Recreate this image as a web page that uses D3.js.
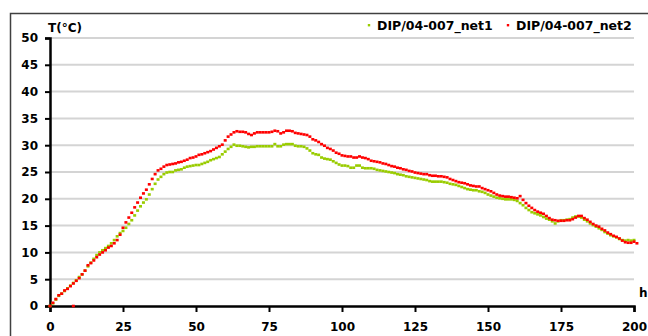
<!DOCTYPE html>
<html>
<head>
<meta charset="utf-8">
<script src="https://cdn.jsdelivr.net/npm/d3@7"></script>
<style>
  html, body { margin: 0; padding: 0; background: #fff; }
  svg { display: block; }
  text { font-family: "DejaVu Sans", Verdana, sans-serif; font-weight: bold; fill: #000; }
</style>
</head>
<body>
<svg id="chart" width="648" height="336"></svg>
<script>
// Temperature readings, one per hour (0..200 h)
const seriesNames = ["DIP/04-007_net1", "DIP/04-007_net2"];
const seriesColors = ["#99cc00", "#ff0000"];

const net1 = [
  0, 0.5, 1.2, 1.9, 2.3, 2.8, 3.3, 3.8, 4.3, 4.8,
  5.4, 5.9, 6.6, 7.4, 8.1, 8.8, 9.5, 10.0, 10.4, 10.8,
  11.2, 11.7, 12.3, 13.0, 13.6, 14.0, 14.6, 15.3, 16.0, 16.9,
  17.8, 18.6, 19.3, 19.9, 20.8, 21.8, 22.8, 23.6, 24.1, 24.6,
  24.9, 25.0, 25.0, 25.3, 25.4, 25.5, 25.8, 26.0, 26.1, 26.2,
  26.3, 26.3, 26.5, 26.7, 26.9, 27.2, 27.4, 27.6, 27.8, 28.3,
  28.8, 29.3, 29.7, 30.1, 29.9, 29.9, 29.8, 29.7, 29.6, 29.7,
  29.7, 29.8, 29.8, 29.8, 29.8, 29.8, 29.8, 30.2, 29.8, 29.8,
  30.1, 30.2, 30.2, 30.2, 29.9, 29.8, 29.8, 29.7, 29.4, 29.0,
  28.5, 28.3, 28.2, 27.7, 27.5, 27.4, 27.3, 27.0, 26.7, 26.4,
  26.2, 26.2, 26.1, 25.8, 25.8, 26.2, 26.2, 25.8, 25.7, 25.7,
  25.7, 25.6, 25.4, 25.3, 25.2, 25.1, 25.0, 24.9, 24.8, 24.6,
  24.5, 24.4, 24.2, 24.1, 24.0, 23.9, 23.8, 23.7, 23.6, 23.5,
  23.3, 23.2, 23.2, 23.2, 23.2, 23.1, 23.0, 22.8, 22.7, 22.6,
  22.4, 22.2, 22.0, 21.8, 21.7, 21.6, 21.6, 21.4, 21.3, 21.1,
  20.8, 20.6, 20.4, 20.2, 20.1, 20.0, 19.9, 19.9, 19.9, 19.8,
  19.6, 19.2, 18.8, 18.3, 17.9, 17.5, 17.3, 17.1, 16.9, 16.6,
  16.3, 16.1, 15.8, 15.4, 15.8, 16.0, 16.0, 16.1, 16.2, 16.5,
  16.7, 16.7, 16.5, 16.1, 15.8, 15.4, 15.1, 14.8, 14.5, 14.2,
  13.8, 13.5, 13.2, 13.0, 12.8, 12.5, 12.3, 12.2, 12.3, 12.2,
  12.3
];

const net2 = [
  0, 0.6, 1.3, 2.0, 2.3, 2.9, 3.2, 3.7, 4.2, 4.7,
  5.2, 5.9, 6.6, 7.6, 8.0, 8.5, 9.1, 9.6, 10.0, 10.4,
  10.9, 11.2, 11.7, 12.3, 13.3, 14.6, 15.6, 16.5, 17.4, 18.4,
  19.3, 20.2, 21.0, 21.7, 22.7, 23.7, 24.6, 25.3, 25.6, 26.0,
  26.3, 26.4, 26.5, 26.6, 26.8, 26.9, 27.1, 27.3, 27.6, 27.7,
  27.9, 28.2, 28.3, 28.5, 28.7, 28.9, 29.2, 29.5, 29.8, 30.1,
  30.9, 31.6, 32.0, 32.4, 32.6, 32.5, 32.5, 32.4, 32.1, 31.9,
  32.2, 32.4, 32.4, 32.4, 32.4, 32.4, 32.5, 32.7, 32.6, 32.2,
  32.4, 32.7, 32.7, 32.6, 32.3, 32.2, 32.1, 32.0, 31.9, 31.6,
  31.1, 30.9, 30.6, 30.2, 29.9, 29.5, 29.3, 29.0, 28.6, 28.4,
  28.1, 28.0, 27.9, 27.9, 27.7, 27.7, 27.9, 27.7, 27.6, 27.4,
  27.1, 27.0, 26.9, 26.8, 26.6, 26.5, 26.3, 26.1, 26.0, 25.8,
  25.7, 25.5, 25.4, 25.2, 25.1, 24.9, 24.8, 24.7, 24.6, 24.6,
  24.4, 24.3, 24.3, 24.2, 24.2, 24.1, 24.0, 23.7, 23.5, 23.3,
  23.1, 23.0, 22.9, 22.7, 22.5, 22.4, 22.3, 22.3, 22.0, 21.8,
  21.6, 21.4, 21.1, 20.8, 20.6, 20.5, 20.4, 20.4, 20.3, 20.2,
  20.1, 20.5, 19.8, 19.2, 18.7, 18.3, 17.9, 17.6, 17.4, 17.2,
  16.8, 16.4, 16.1, 16.0, 15.9, 15.9, 15.9, 16.0, 16.0, 16.2,
  16.5, 16.8, 16.8, 16.4, 16.1, 15.7, 15.3, 15.0, 14.8, 14.4,
  14.1, 13.7, 13.4, 13.1, 12.9, 12.6, 12.2, 11.9, 11.8, 11.8,
  12.0, 11.7
];
// stray net2 reading logged at 0 °C
const net2Stray = [{ h: 8, t: 0 }];

const xTicks = [0, 25, 50, 75, 100, 125, 150, 175, 200];
const yTicks = [0, 5, 10, 15, 20, 25, 30, 35, 40, 45, 50];

const svg = d3.select("#chart");
const x = d3.scaleLinear().domain([0, 200]).range([50, 634]);
const y = d3.scaleLinear().domain([0, 50]).range([306, 38]);

// outer frame
svg.append("rect")
  .attr("x", 10.5).attr("y", 13.5)
  .attr("width", 700).attr("height", 400)
  .attr("fill", "none").attr("stroke", "#404040").attr("stroke-width", 1.5);

// horizontal gridlines
svg.append("g").selectAll("line")
  .data(yTicks.filter(d => d > 0))
  .join("line")
  .attr("x1", x(0)).attr("x2", x(200))
  .attr("y1", d => y(d)).attr("y2", d => y(d))
  .attr("stroke", "#d4d4d4").attr("stroke-width", 2);

// y axis
const yAxis = svg.append("g")
  .attr("transform", `translate(${x(0)},0)`)
  .call(d3.axisLeft(y).tickValues(yTicks).tickSize(5).tickPadding(7));
yAxis.select(".domain").attr("stroke", "#000").attr("stroke-width", 2.5);
yAxis.selectAll(".tick line").attr("stroke", "#000").attr("stroke-width", 2);
yAxis.selectAll(".tick text")
  .style("font-family", '"DejaVu Sans", Verdana, sans-serif')
  .style("font-weight", "bold").style("font-size", "12px").attr("fill", "#000");

// x axis
const xAxis = svg.append("g")
  .attr("transform", `translate(0,${y(0)})`)
  .call(d3.axisBottom(x).tickValues(xTicks).tickSize(6).tickPadding(10));
xAxis.select(".domain").attr("stroke", "#000").attr("stroke-width", 2.5);
xAxis.selectAll(".tick line").attr("stroke", "#000").attr("stroke-width", 2);
xAxis.selectAll(".tick text")
  .style("font-family", '"DejaVu Sans", Verdana, sans-serif')
  .style("font-weight", "bold").style("font-size", "12px").attr("fill", "#000");

// axis titles
svg.append("text").attr("x", 48).attr("y", 32)
  .style("font-size", "12px").text("T(°C)");
svg.append("text").attr("x", 639).attr("y", 297)
  .style("font-size", "12px").text("h");

// point markers (slightly wide squares so consecutive readings read as a trace)
const mw = 3, mh = 2.6;
function drawSeries(values, color, extra) {
  const pts = values.map((t, h) => ({ h, t })).concat(extra || []);
  svg.append("g").selectAll("rect")
    .data(pts)
    .join("rect")
    .attr("x", d => x(d.h) - mw / 2)
    .attr("y", d => y(d.t) - mh / 2)
    .attr("width", mw).attr("height", mh)
    .attr("fill", color);
}
drawSeries(net1, seriesColors[0]);
drawSeries(net2, seriesColors[1], net2Stray);

// legend
const legendX = [369, 508];
const leg = svg.append("g");
seriesNames.forEach((name, i) => {
  leg.append("rect")
    .attr("x", legendX[i] - 1.2).attr("y", 24)
    .attr("width", 2.4).attr("height", 2.4)
    .attr("fill", seriesColors[i]);
  leg.append("text")
    .attr("x", legendX[i] + 8).attr("y", 30)
    .style("font-size", "12.5px")
    .text(name);
});
</script>
</body>
</html>
